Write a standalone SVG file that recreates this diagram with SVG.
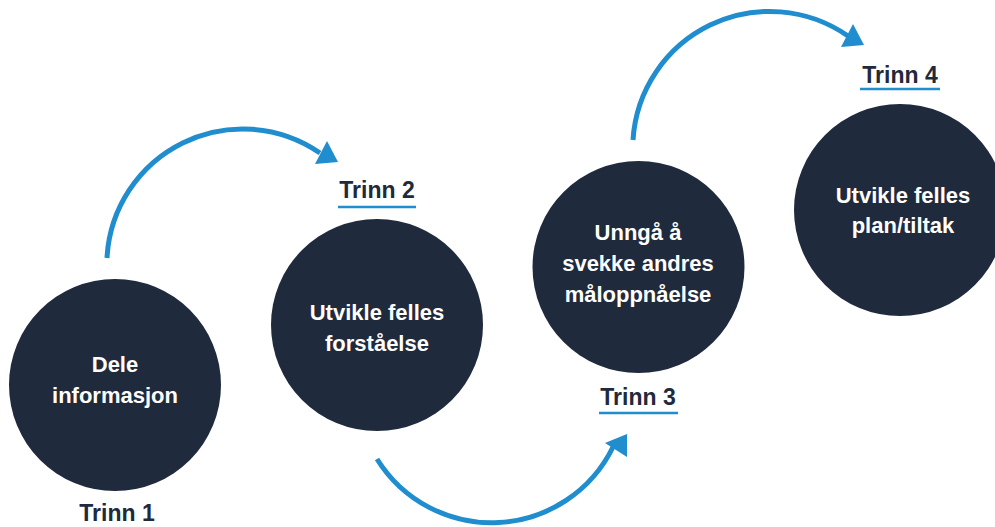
<svg xmlns="http://www.w3.org/2000/svg" width="995" height="527" viewBox="0 0 995 527">
<style>
.node circle{fill:#1f2a3d}
.node text{fill:#ffffff;font-family:"Liberation Sans",Arial,sans-serif;font-weight:bold;font-size:22px;text-anchor:middle}
.node text.step{fill:#1f2a3d;font-size:23px}
.uline{stroke:#1f8dce;stroke-width:2.5}
.arc{fill:none;stroke:#1f8dce;stroke-width:5}
.head{fill:#1f8dce}
</style>
<rect width="995" height="527" fill="#ffffff"/>
<g id="connectors">
<path class="arc" d="M107,258 A136,136 0 0 1 320,153"/>
<polygon class="head" points="338,162 327,141 315,164"/>
<path class="arc" d="M377,459 A135,135 0 0 0 613,447"/>
<polygon class="head" points="627,434 605,443 627,457"/>
<path class="arc" d="M633,140 A137,137 0 0 1 848,36"/>
<polygon class="head" points="864,45 853,24 841,47"/>
</g>
<g id="step1" class="node">
<circle cx="115" cy="385" r="106"/>
<text x="115" y="372">Dele</text>
<text x="115" y="403">informasjon</text>
<text class="step" x="117" y="521">Trinn 1</text>
</g>
<g id="step2" class="node">
<circle cx="377" cy="325" r="106"/>
<text x="377" y="320">Utvikle felles</text>
<text x="377" y="351">forståelse</text>
<text class="step" x="377" y="198">Trinn 2</text>
<line class="uline" x1="338" y1="207" x2="416" y2="207"/>
</g>
<g id="step3" class="node">
<circle cx="638.5" cy="267" r="106"/>
<text x="638" y="240">Unngå å</text>
<text x="638" y="271">svekke andres</text>
<text x="638" y="302">måloppnåelse</text>
<text class="step" x="638" y="405">Trinn 3</text>
<line class="uline" x1="599" y1="413" x2="678" y2="413"/>
</g>
<g id="step4" class="node">
<circle cx="900" cy="210" r="106"/>
<text x="903" y="203">Utvikle felles</text>
<text x="903" y="233">plan/tiltak</text>
<text class="step" x="900" y="83">Trinn 4</text>
<line class="uline" x1="860" y1="89" x2="940" y2="89"/>
</g>
</svg>
